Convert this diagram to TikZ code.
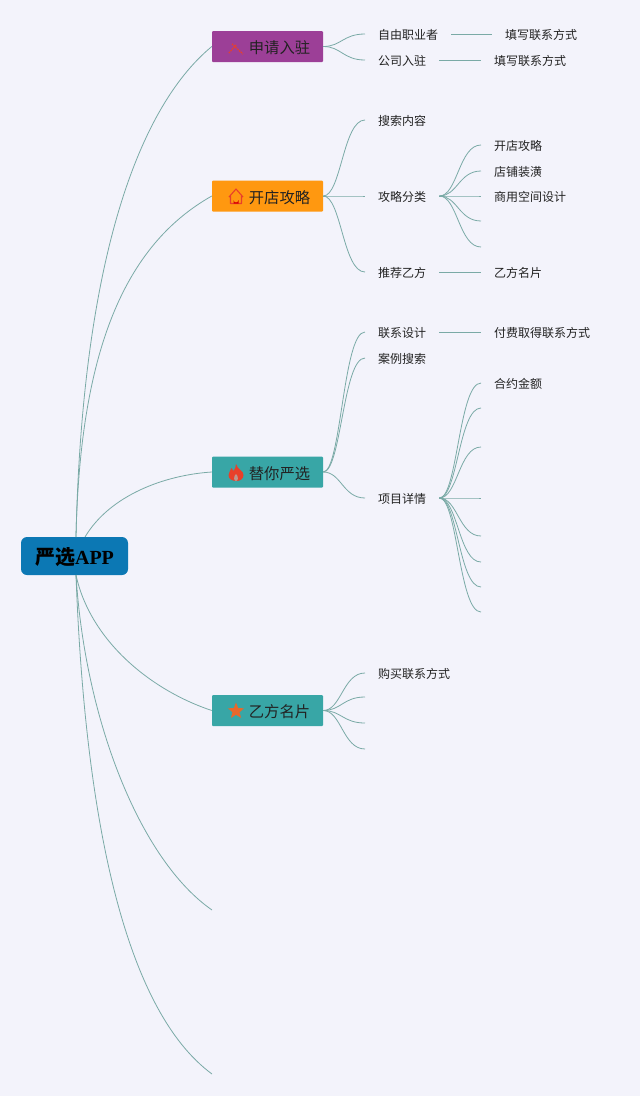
\documentclass[tikz,border=0pt]{standalone}
\usepackage{fontspec}
\setmainfont{Noto Sans CJK SC}
\newfontfamily\serifapp{Liberation Serif}
\usetikzlibrary{shapes.geometric}
\definecolor{paper}{HTML}{F3F3FB}
\definecolor{rootblue}{HTML}{0C78B4}
\definecolor{plum}{HTML}{9C3F97}
\definecolor{amber}{HTML}{FF9810}
\definecolor{teal}{HTML}{38A6A6}
\definecolor{wire}{HTML}{7AAAA6}
\definecolor{ink}{HTML}{222222}
\definecolor{iconred}{HTML}{E8402A}
\definecolor{iconstar}{HTML}{E8682B}

\begin{document}
\begin{tikzpicture}[x=1pt,y=-1pt,
  rootbox/.style={font=\bfseries\fontsize{20}{22}\selectfont,fill=rootblue,rounded corners=6pt,
                  minimum width=107pt,minimum height=38pt,inner sep=0pt,text height=17pt,text depth=0pt},
  branch/.style={font=\fontsize{15.3}{17}\selectfont,text=ink,rounded corners=1pt,
                 minimum width=111pt,minimum height=31pt,inner sep=0pt,text height=15pt,text depth=0.5pt},
  lbl/.style={font=\fontsize{12}{14}\selectfont,text=ink,anchor=west,inner xsep=13pt,inner ysep=1pt,
              text height=11.5pt,text depth=0.5pt},
  wirebase/.style={draw=wire,line width=0.8pt},
  lnk/.style={wirebase,to path={.. controls +(18,0) and +(-22,0) .. (\tikztotarget)}},
  trunk/.style={wirebase}]

\useasboundingbox[fill=paper] (0,0) rectangle (640,1096);

% ---- root and first level ----
\node[rootbox] (root) at (74.5,556) {严选{\serifapp APP}};
\node[branch,fill=plum] (apply) at (267.5,46.5) {\hspace{24pt}申请入驻};
\node[branch,fill=amber] (shop) at (267.5,196) {\hspace{24pt}开店攻略};
\node[branch,fill=teal] (pick) at (267.5,472) {\hspace{24pt}替你严选};
\node[branch,fill=teal] (card) at (267.5,710.5) {\hspace{24pt}乙方名片};
\coordinate (rootup) at (76,537);
\coordinate (rootdown) at (76,575);
\coordinate (rootside) at (85,537);
\coordinate (blankA) at (212,910);
\coordinate (blankB) at (212,1074);

% ---- icons ----
\draw[iconred,line width=1.4pt,densely dotted] (229,53) -- (236,45) (232,44) -- (243,54);
\draw[iconred,line width=1.1pt,line join=round] (229,197) -- (236,189) -- (243,197) (230.5,196) -- (230.5,203.5) -- (241.5,203.5) -- (241.5,196);
\fill[red!85!black] (233.5,203.5) -- (233.5,200) arc[start angle=180,end angle=360,radius=2.5pt] -- (238.5,203.5) -- cycle;
\fill[iconred] (236,464) .. controls (237,469) and (244,471) .. (243.5,475)
  .. controls (243.5,479) and (240,481) .. (236.5,481)
  .. controls (232,481) and (228.5,479) .. (228.5,475)
  .. controls (228.5,472) and (231,470) .. (231.5,468)
  .. controls (232.5,469) and (233,470) .. (233.5,471)
  .. controls (235,469) and (236,467) .. (236,464) -- cycle;
\fill[teal!40!iconred!70!white] (236,474) .. controls (238.5,476) and (238.5,481) .. (236,481)
  .. controls (233.5,481) and (233.5,476) .. (236,474) -- cycle;
\node[star,star points=5,star point ratio=2.3,fill=iconstar,inner sep=0pt,minimum size=17pt] (staricon) at (236,711) {};

% ---- second level ----
\node[lbl] (free) at (365,34) {自由职业者};
\node[lbl] (company) at (365,60) {公司入驻};
\node[lbl] (search) at (365,120) {搜索内容};
\node[lbl] (guide) at (365,196) {攻略分类};
\node[lbl] (recommend) at (365,272) {推荐乙方};
\node[lbl] (contact) at (365,332) {联系设计};
\node[lbl] (cases) at (365,358) {案例搜索};
\node[lbl] (detail) at (365,498) {项目详情};
\node[lbl] (buy) at (365,673) {购买联系方式};
\coordinate (cardB) at (365,697);
\coordinate (cardC) at (365,723);
\coordinate (cardD) at (365,749);

% ---- third level ----
\node[lbl] (fillA) at (492,34) {填写联系方式};
\node[lbl] (fillB) at (481,60) {填写联系方式};
\node[lbl] (open) at (481,145) {开店攻略};
\node[lbl] (decor) at (481,171) {店铺装潢};
\node[lbl] (space) at (481,196) {商用空间设计};
\coordinate (guideD) at (481,221);
\coordinate (guideE) at (481,247);
\node[lbl] (namecard) at (481,272) {乙方名片};
\node[lbl] (paid) at (481,332) {付费取得联系方式};
\node[lbl] (amount) at (481,383) {合约金额};
\coordinate (detailB) at (481,408);
\coordinate (detailC) at (481,447);
\coordinate (detailD) at (481,498);
\coordinate (detailE) at (481,536);
\coordinate (detailF) at (481,562);
\coordinate (detailG) at (481,587);
\coordinate (detailH) at (481,612);

% ---- connectors from the root ----
\draw[trunk] (rootup) .. controls (82,270) and (135,110) .. (apply.west);
\draw[trunk] (rootup) .. controls (80,350) and (125,245) .. (shop.west);
\draw[trunk] (rootside) .. controls (110,495) and (165,475) .. (pick.west);
\draw[trunk] (rootdown) .. controls (90,640) and (150,690) .. (card.west);
\draw[trunk] (rootdown) .. controls (85,720) and (140,860) .. (blankA);
\draw[trunk] (rootdown) .. controls (85,820) and (125,1010) .. (blankB);

% ---- connectors to the second level ----
\draw[lnk] (apply.east) to (free.west);
\draw[lnk] (apply.east) to (company.west);
\draw[lnk] (shop.east) to (search.west);
\draw[lnk] (shop.east) to (guide.west);
\draw[lnk] (shop.east) to (recommend.west);
\draw[lnk] (pick.east) to (contact.west);
\draw[lnk] (pick.east) to (cases.west);
\draw[lnk] (pick.east) to (detail.west);
\draw[lnk] (card.east) to (buy.west);
\draw[lnk] (card.east) to (cardB);
\draw[lnk] (card.east) to (cardC);
\draw[lnk] (card.east) to (cardD);

% ---- connectors to the third level ----
\draw[wirebase] (free.east) -- (fillA.west);
\draw[wirebase] (company.east) -- (fillB.west);
\draw[lnk] (guide.east) to (open.west);
\draw[lnk] (guide.east) to (decor.west);
\draw[lnk] (guide.east) to (space.west);
\draw[lnk] (guide.east) to (guideD);
\draw[lnk] (guide.east) to (guideE);
\draw[wirebase] (recommend.east) -- (namecard.west);
\draw[wirebase] (contact.east) -- (paid.west);
\draw[lnk] (detail.east) to (amount.west);
\draw[lnk] (detail.east) to (detailB);
\draw[lnk] (detail.east) to (detailC);
\draw[lnk] (detail.east) to (detailD);
\draw[lnk] (detail.east) to (detailE);
\draw[lnk] (detail.east) to (detailF);
\draw[lnk] (detail.east) to (detailG);
\draw[lnk] (detail.east) to (detailH);
\end{tikzpicture}
\end{document}
